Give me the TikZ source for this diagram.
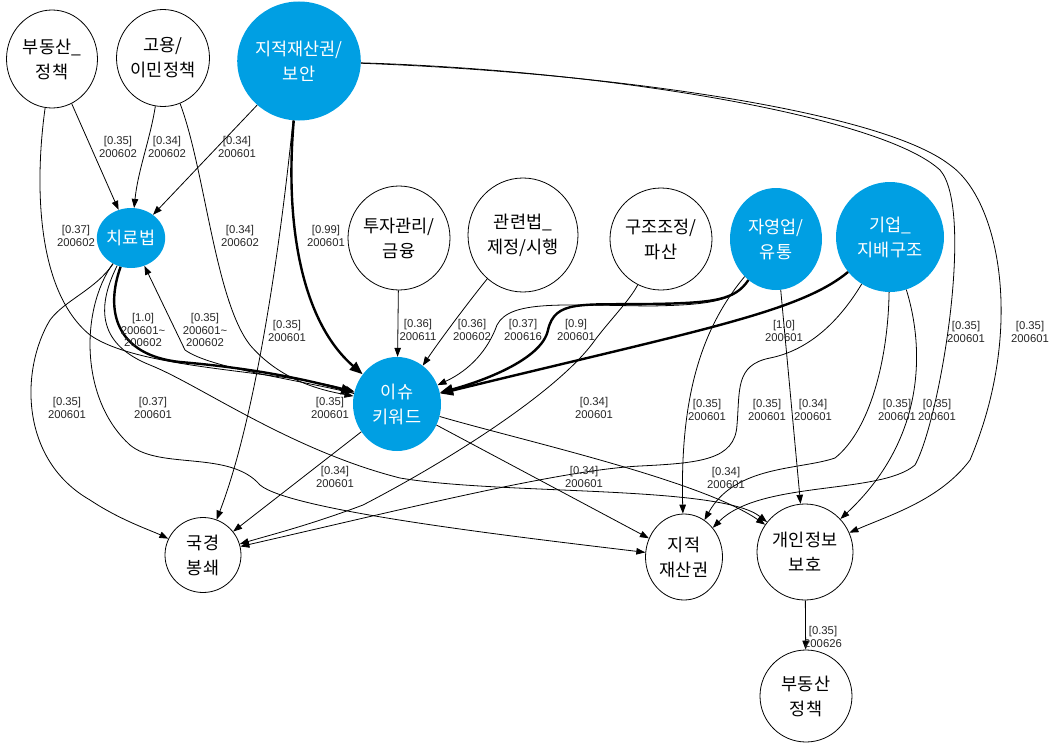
\documentclass[tikz,border=0pt]{standalone}
\usepackage{fontspec}
\setmainfont{Noto Sans CJK KR}
\newfontfamily\labelfont{Liberation Sans}
\usetikzlibrary{arrows.meta,shapes.geometric}
\definecolor{nodeblue}{HTML}{009FE3}
\begin{document}
\begin{tikzpicture}[x=1pt,y=-1pt,
  every node/.style={inner sep=0pt},
  plain/.style={ellipse,draw,line width=0.8pt,align=center,font=\fontsize{17.5}{25}\selectfont},
  hot/.style={ellipse,fill=nodeblue,text=white,align=center,font=\fontsize{17.5}{25}\selectfont},
  lbl/.style={align=center,font=\labelfont\fontsize{11.3}{12.5}\selectfont,text=black!85},
  edge/.style={-{Triangle[length=9pt,width=6.5pt]},line width=0.8pt},
  heavy/.style={-{Triangle[length=13pt,width=10pt]},line width=2.4pt},
]
\useasboundingbox (0,0) rectangle (1055,752);
% nodes
\node[plain,minimum width=91pt,minimum height=98pt] (A) at (52,59) {부동산\_\\정책};
\node[plain,minimum width=93pt,minimum height=97pt] (B) at (163,58) {고용/\\이민정책};
\node[hot,minimum width=119pt,minimum height=119pt] (C) at (299,61) {지적재산권/\\보안};
\node[hot,minimum width=60pt,minimum height=60pt] (D) at (131,238) {치료법};
\node[plain,minimum width=102pt,minimum height=104pt] (E) at (399,238) {투자관리/\\금융};
\node[plain,minimum width=110pt,minimum height=114pt] (F) at (523,235) {관련법\_\\제정/시행};
\node[plain,minimum width=102pt,minimum height=102pt] (G) at (661,239) {구조조정/\\파산};
\node[hot,minimum width=92pt,minimum height=102pt] (H) at (776,239) {자영업/\\유통};
\node[hot,minimum width=108pt,minimum height=110pt] (I) at (890,237) {기업\_\\지배구조};
\node[hot,minimum width=88pt,minimum height=94pt] (K) at (397,404) {이슈\\키워드};
\node[plain,minimum width=76pt,minimum height=75pt] (L) at (203,555) {국경\\봉쇄};
\node[plain,minimum width=77pt,minimum height=86pt] (M) at (684,557) {지적\\재산권};
\node[plain,minimum width=96pt,minimum height=96pt] (N) at (805,552) {개인정보\\보호};
\node[plain,minimum width=92pt,minimum height=92pt] (P) at (806,696) {부동산\\정책};
% edges
\draw[edge] (A) -- (D);
\draw[edge] (B) .. controls (150,140) and (138,170) .. (D);
\draw[edge] (C) -- (D);
\draw[heavy] (C) .. controls (285,220) and (300,320) .. (K);
\draw[edge] (C) .. controls (280,250) and (255,420) .. (L);
\draw[edge] (C) .. controls (600,70) and (880,115) .. (940,170) .. controls (975,210) and (940,420) .. (915,465) .. controls (880,495) and (760,480) .. (M);
\draw[edge] (C) .. controls (600,72) and (880,110) .. (950,165) .. controls (1000,200) and (1025,330) .. (970,460) .. controls (940,500) and (890,515) .. (N);
\draw[edge] (A) .. controls (35,180) and (35,290) .. (90,335) .. controls (140,370) and (280,370) .. (K);
\draw[edge] (B) .. controls (205,170) and (215,300) .. (250,345) .. controls (280,380) and (320,390) .. (K);
\draw[heavy] (D) .. controls (105,310) and (115,355) .. (180,362) .. controls (250,368) and (300,378) .. (K);
\draw[edge] (K) .. controls (290,378) and (210,368) .. (185,350) -- (D);
\draw[edge] (D) .. controls (95,290) and (65,300) .. (50,320) .. controls (20,370) and (20,460) .. (90,500) .. controls (120,520) and (150,530) .. (L);
\draw[edge] (D) .. controls (80,310) and (80,400) .. (130,445) .. controls (160,470) and (230,450) .. (260,485) .. controls (290,510) and (500,535) .. (M);
\draw[edge] (D) .. controls (95,310) and (100,345) .. (150,365) .. controls (200,385) and (290,450) .. (400,478) .. controls (500,495) and (720,485) .. (N);
\draw[edge] (E) -- (K);
\draw[edge] (F) .. controls (470,300) and (440,340) .. (K);
\draw[edge] (G) .. controls (630,300) and (610,320) .. (595,340) .. controls (560,390) and (450,460) .. (363,505) .. controls (310,525) and (270,535) .. (L);
\draw[heavy] (H) .. controls (735,300) and (715,303) .. (650,304) .. controls (580,305) and (555,300) .. (548,330) .. controls (542,360) and (480,382) .. (K);
\draw[edge] (H) .. controls (735,300) and (715,305) .. (650,306) .. controls (560,305) and (510,300) .. (497,325) .. controls (488,350) and (470,370) .. (K);
\draw[edge] (H) .. controls (700,330) and (680,400) .. (M);
\draw[edge] (H) -- (N);
\draw[heavy] (I) .. controls (800,312) and (700,330) .. (K);
\draw[edge] (I) .. controls (840,320) and (810,350) .. (770,358) .. controls (735,365) and (740,390) .. (737,425) .. controls (735,460) and (700,463) .. (640,466) .. controls (560,470) and (400,510) .. (L);
\draw[edge] (I) .. controls (888,360) and (870,430) .. (835,458) .. controls (800,470) and (735,465) .. (M);
\draw[edge] (I) .. controls (925,350) and (925,440) .. (N);
\draw[edge] (K) -- (L);
\draw[edge] (K) -- (M);
\draw[edge] (K) .. controls (520,440) and (700,480) .. (N);
\draw[edge] (N) -- (P);
% labels
\node[lbl] (l1) at (118,147) {[0.35]\\200602};
\node[lbl] (l2) at (167,147) {[0.34]\\200602};
\node[lbl] (l3) at (237,147) {[0.34]\\200601};
\node[lbl] (l4) at (76,236) {[0.37]\\200602};
\node[lbl] (l5) at (240,236) {[0.34]\\200602};
\node[lbl] (l6) at (326,236) {[0.99]\\200601};
\node[lbl] (l7) at (287,331) {[0.35]\\200601};
\node[lbl] (l8) at (143,330) {[1.0]\\200601\textasciitilde\\200602};
\node[lbl] (l9) at (205,330) {[0.35]\\200601\textasciitilde\\200602};
\node[lbl] (l10) at (67,408) {[0.35]\\200601};
\node[lbl] (l11) at (153,408) {[0.37]\\200601};
\node[lbl] (l12) at (330,408) {[0.35]\\200601};
\node[lbl] (l13) at (418,330) {[0.36]\\200611};
\node[lbl] (l14) at (472,330) {[0.36]\\200602};
\node[lbl] (l15) at (523,330) {[0.37]\\200616};
\node[lbl] (l16) at (576,330) {[0.9]\\200601};
\node[lbl] (l17) at (784,331) {[1.0]\\200601};
\node[lbl] (l18) at (966,332) {[0.35]\\200601};
\node[lbl] (l19) at (1030,332) {[0.35]\\200601};
\node[lbl] (l20) at (594,408) {[0.34]\\200601};
\node[lbl] (l21) at (707,410) {[0.35]\\200601};
\node[lbl] (l22) at (767,410) {[0.35]\\200601};
\node[lbl] (l23) at (813,410) {[0.34]\\200601};
\node[lbl] (l24) at (897,410) {[0.35]\\200601};
\node[lbl] (l25) at (937,410) {[0.35]\\200601};
\node[lbl] (l26) at (335,477) {[0.34]\\200601};
\node[lbl] (l27) at (584,477) {[0.34]\\200601};
\node[lbl] (l28) at (726,478) {[0.34]\\200601};
\node[lbl] (l29) at (823,637) {[0.35]\\200626};
\end{tikzpicture}
\end{document}
